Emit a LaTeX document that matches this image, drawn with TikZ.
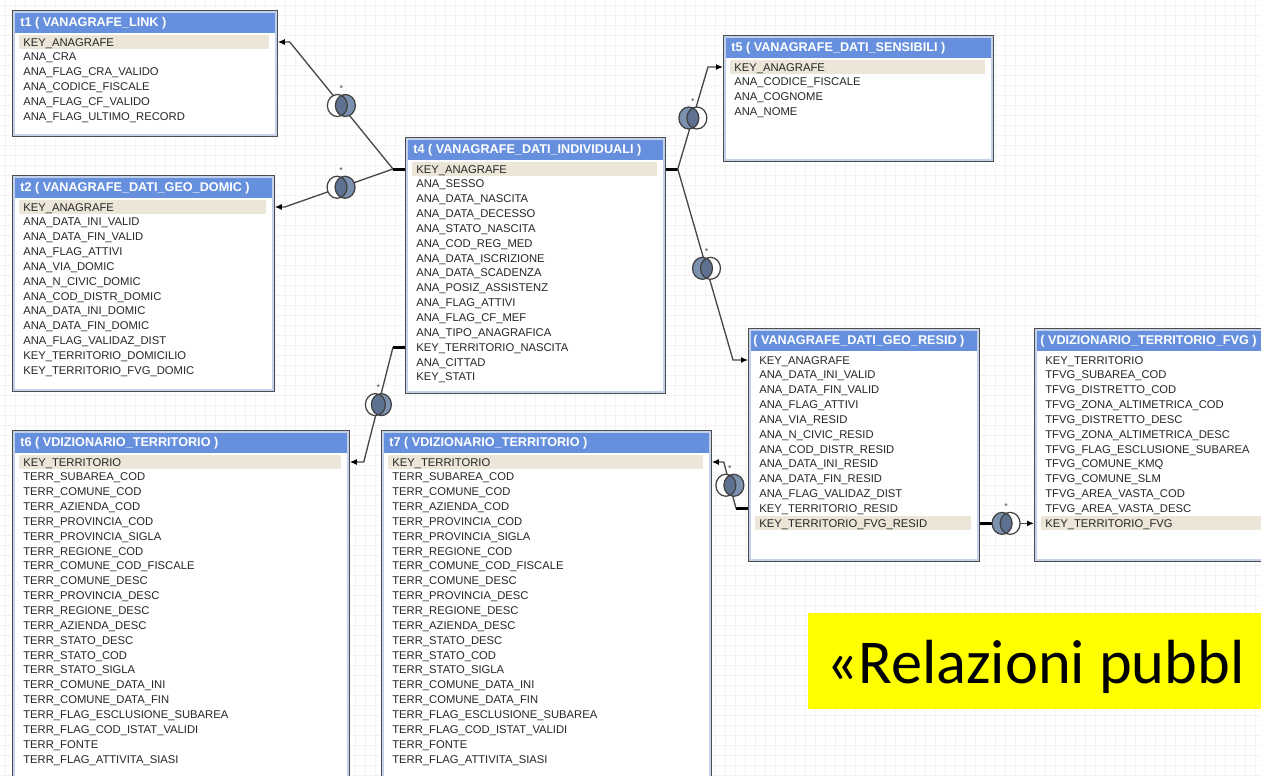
\documentclass[tikz,border=0pt]{standalone}
\usepackage{fontspec}
\setmainfont{Liberation Sans}
\newfontfamily\calib{Carlito}
\usetikzlibrary{calc,arrows.meta}

\definecolor{hdrblue}{HTML}{6690DE}
\definecolor{keyband}{HTML}{EBE6D8}
\definecolor{boxedge}{HTML}{4D4D4D}
\definecolor{boxinner}{HTML}{C3D1EA}
\definecolor{gridc}{HTML}{F3F3F3}
\definecolor{linec}{HTML}{474747}
\definecolor{relfill}{HTML}{7C91B0}
\definecolor{reldark}{HTML}{5E7190}
\definecolor{txt}{HTML}{262626}
\definecolor{banner}{HTML}{FFFF00}

\tikzset{
  tblbox/.style={rectangle, draw=boxedge, line width=1pt, fill=white, anchor=north west, inner sep=0pt},
  tblinner/.style={draw=boxinner, line width=0.9pt},
  hdr/.style={fill=hdrblue},
  hdrtxt/.style={text=white, font=\bfseries\fontsize{7.2pt}{8pt}\selectfont, inner sep=0pt, anchor=west},
  fld/.style={text=txt, font=\fontsize{6.4pt}{7pt}\selectfont, inner sep=0pt, anchor=base west},
  keyrow/.style={fill=keyband},
  stub/.style={line width=1.7pt, black},
  rel/.style={draw=linec, line width=0.75pt, -{Latex[length=1.4mm,width=1.2mm,color=black]}},
  relline/.style={draw=black!75, line width=0.7pt},
  multmark/.style={text=black!70, font=\fontsize{5pt}{5pt}\selectfont, inner sep=0pt},
}

% table: name, x, y, width, height, title x offset, title, key row, fields
\newcommand\dbtable[9]{%
  \node[tblbox, minimum width={#4*0.02cm}, minimum height={#5*0.02cm}] (#1) at (#2,#3) {};
  \draw[tblinner] ($(#1.north west)+(2,2)$) rectangle ($(#1.south east)+(-2,-2)$);
  \fill[hdr] ($(#1.north west)+(3,3)$) rectangle ($(#1.north east)+(-3,23)$);
  \node[hdrtxt] (#1-title) at ($(#1.north west)+(#6,13)$) {#7};
  \fill[keyrow] ($(#1.north west)+(7,{25+(#8-1)*14.85})$) rectangle ($(#1.north east)+(-9,{39+(#8-1)*14.85})$);
  \foreach \f [count=\i] in {#9} {
    \coordinate (#1-r\i) at ($(#1.north west)+(0,{32+(\i-1)*14.85})$);
    \node[fld] (#1-f\i) at ($(#1-r\i)+(11,4)$) {\f};
  }
}

% relationship mark: name, centre coordinate, x offset of the filled disc
\newcommand\relsym[3]{%
  \begin{scope}[shift={(#2)}]
    \fill[white] ({-(#3)},0) ellipse [x radius=0.2cm, y radius=0.22cm];
    \fill[relfill] (#3,0) ellipse [x radius=0.2cm, y radius=0.22cm];
    \begin{scope}
      \clip ({-(#3)},0) ellipse [x radius=0.2cm, y radius=0.22cm];
      \fill[reldark] (#3,0) ellipse [x radius=0.2cm, y radius=0.22cm];
    \end{scope}
    \draw[relline] ({-(#3)},0) ellipse [x radius=0.2cm, y radius=0.22cm]
                   (#3,0) ellipse [x radius=0.2cm, y radius=0.22cm];
    \node[multmark] (#1) at (0,-17) {*};
  \end{scope}
}

\begin{document}
\catcode`\_=12
\begin{tikzpicture}[x=0.02cm, y=-0.02cm]
\useasboundingbox (0,0) rectangle (1261,775);
\clip (0,0) rectangle (1261,775);
\fill[white] (0,0) rectangle (1261,775);

% background grid
\foreach \gx in {5,15,...,1260} \draw[gridc, line width=0.3pt] (\gx,0) -- (\gx,775);
\foreach \gy in {5,15,...,775} \draw[gridc, line width=0.3pt] (0,\gy) -- (1261,\gy);

% tables
\dbtable{t1}{12}{10}{264}{125}{8}{t1 ( VANAGRAFE_LINK )}{1}{KEY_ANAGRAFE,ANA_CRA,ANA_FLAG_CRA_VALIDO,ANA_CODICE_FISCALE,ANA_FLAG_CF_VALIDO,ANA_FLAG_ULTIMO_RECORD}

\dbtable{t2}{12}{175}{261}{215}{8}{t2 ( VANAGRAFE_DATI_GEO_DOMIC )}{1}{KEY_ANAGRAFE,ANA_DATA_INI_VALID,ANA_DATA_FIN_VALID,ANA_FLAG_ATTIVI,ANA_VIA_DOMIC,ANA_N_CIVIC_DOMIC,ANA_COD_DISTR_DOMIC,ANA_DATA_INI_DOMIC,ANA_DATA_FIN_DOMIC,ANA_FLAG_VALIDAZ_DIST,KEY_TERRITORIO_DOMICILIO,KEY_TERRITORIO_FVG_DOMIC}

\dbtable{t4}{405}{137}{259}{255}{8}{t4 ( VANAGRAFE_DATI_INDIVIDUALI )}{1}{KEY_ANAGRAFE,ANA_SESSO,ANA_DATA_NASCITA,ANA_DATA_DECESSO,ANA_STATO_NASCITA,ANA_COD_REG_MED,ANA_DATA_ISCRIZIONE,ANA_DATA_SCADENZA,ANA_POSIZ_ASSISTENZ,ANA_FLAG_ATTIVI,ANA_FLAG_CF_MEF,ANA_TIPO_ANAGRAFICA,KEY_TERRITORIO_NASCITA,ANA_CITTAD,KEY_STATI}

\dbtable{t5}{723}{35}{269}{125}{8}{t5 ( VANAGRAFE_DATI_SENSIBILI )}{1}{KEY_ANAGRAFE,ANA_CODICE_FISCALE,ANA_COGNOME,ANA_NOME}

\dbtable{rs}{748}{328}{230}{232}{5}{( VANAGRAFE_DATI_GEO_RESID )}{12}{KEY_ANAGRAFE,ANA_DATA_INI_VALID,ANA_DATA_FIN_VALID,ANA_FLAG_ATTIVI,ANA_VIA_RESID,ANA_N_CIVIC_RESID,ANA_COD_DISTR_RESID,ANA_DATA_INI_RESID,ANA_DATA_FIN_RESID,ANA_FLAG_VALIDAZ_DIST,KEY_TERRITORIO_RESID,KEY_TERRITORIO_FVG_RESID}

\dbtable{fvg}{1034}{328}{260}{232}{6}{( VDIZIONARIO_TERRITORIO_FVG )}{12}{KEY_TERRITORIO,TFVG_SUBAREA_COD,TFVG_DISTRETTO_COD,TFVG_ZONA_ALTIMETRICA_COD,TFVG_DISTRETTO_DESC,TFVG_ZONA_ALTIMETRICA_DESC,TFVG_FLAG_ESCLUSIONE_SUBAREA,TFVG_COMUNE_KMQ,TFVG_COMUNE_SLM,TFVG_AREA_VASTA_COD,TFVG_AREA_VASTA_DESC,KEY_TERRITORIO_FVG}

\dbtable{t6}{12}{430}{336}{360}{8}{t6 ( VDIZIONARIO_TERRITORIO )}{1}{KEY_TERRITORIO,TERR_SUBAREA_COD,TERR_COMUNE_COD,TERR_AZIENDA_COD,TERR_PROVINCIA_COD,TERR_PROVINCIA_SIGLA,TERR_REGIONE_COD,TERR_COMUNE_COD_FISCALE,TERR_COMUNE_DESC,TERR_PROVINCIA_DESC,TERR_REGIONE_DESC,TERR_AZIENDA_DESC,TERR_STATO_DESC,TERR_STATO_COD,TERR_STATO_SIGLA,TERR_COMUNE_DATA_INI,TERR_COMUNE_DATA_FIN,TERR_FLAG_ESCLUSIONE_SUBAREA,TERR_FLAG_COD_ISTAT_VALIDI,TERR_FONTE,TERR_FLAG_ATTIVITA_SIASI}

\dbtable{t7}{381}{430}{329}{360}{8}{t7 ( VDIZIONARIO_TERRITORIO )}{1}{KEY_TERRITORIO,TERR_SUBAREA_COD,TERR_COMUNE_COD,TERR_AZIENDA_COD,TERR_PROVINCIA_COD,TERR_PROVINCIA_SIGLA,TERR_REGIONE_COD,TERR_COMUNE_COD_FISCALE,TERR_COMUNE_DESC,TERR_PROVINCIA_DESC,TERR_REGIONE_DESC,TERR_AZIENDA_DESC,TERR_STATO_DESC,TERR_STATO_COD,TERR_STATO_SIGLA,TERR_COMUNE_DATA_INI,TERR_COMUNE_DATA_FIN,TERR_FLAG_ESCLUSIONE_SUBAREA,TERR_FLAG_COD_ISTAT_VALIDI,TERR_FONTE,TERR_FLAG_ATTIVITA_SIASI}

% key stubs
\draw[stub] (t4.west |- t4-r1) -- ++(-12,0) coordinate (t4L);
\draw[stub] (t4.east |- t4-r1) -- ++(12,0) coordinate (t4R);
\draw[stub] (t4.west |- t4-r13) -- ++(-12,0) coordinate (t4N);
\draw[stub] (rs.west |- rs-r11) -- ++(-12,0) coordinate (rsL);
\draw[stub] (rs.east |- rs-r12) -- ++(12,0) coordinate (rsR);

% bend points next to the referenced tables
\coordinate (b1) at ($(t1.east |- t1-r1)+(12,0)$);
\coordinate (b2) at ($(t2.east |- t2-r1)+(10,0)$);
\coordinate (b3) at ($(t5.west |- t5-r1)+(-15,0)$);
\coordinate (b4) at ($(rs.west |- rs-r1)+(-15,0)$);
\coordinate (b5) at ($(t6.east |- t6-r1)+(14,0)$);
\coordinate (b6) at ($(t7.east |- t7-r1)+(12,0)$);

% relationships
\draw[rel] (t4L) -- (b1) -- (t1.east |- t1-r1);
\draw[rel] (t4L) -- (b2) -- (t2.east |- t2-r1);
\draw[rel] (t4R) -- (b3) -- (t5.west |- t5-r1);
\draw[rel] (t4R) -- (b4) -- (rs.west |- rs-r1);
\draw[rel] (t4N) -- (b5) -- (t6.east |- t6-r1);
\draw[rel] (rsL) -- (b6) -- (t7.east |- t7-r1);
\draw[rel] (rsR) -- (fvg.west |- fvg-r12);

% relationship marks
\coordinate (m1) at ($(t4L)!0.5!(b1)$);
\coordinate (m2) at ($(t4L)!0.48!(b2)$);
\coordinate (m3) at ($(t4R)!0.5!(b3)$);
\coordinate (m4) at ($(t4R)!0.52!(b4)$);
\coordinate (m5) at ($(t4N)!0.5!(b5)$);
\coordinate (m6) at ($(rsL)!0.5!(b6)$);
\coordinate (m7) at ($(rsR)!0.34!(fvg.west |- fvg-r12)$);
\relsym{s1}{m1}{4}
\relsym{s2}{m2}{4}
\relsym{s3}{m3}{-4}
\relsym{s4}{m4}{-4}
\relsym{s5}{m5}{3}
\relsym{s6}{m6}{4}
\relsym{s7}{m7}{-4}

% banner
\fill[banner] (808,613) rectangle (1270,709);
\node[anchor=base west, inner sep=0pt, font=\calib\fontsize{35.5pt}{40pt}\selectfont] (banner) at (826,683) {«Relazioni pubbl};
\end{tikzpicture}
\end{document}
